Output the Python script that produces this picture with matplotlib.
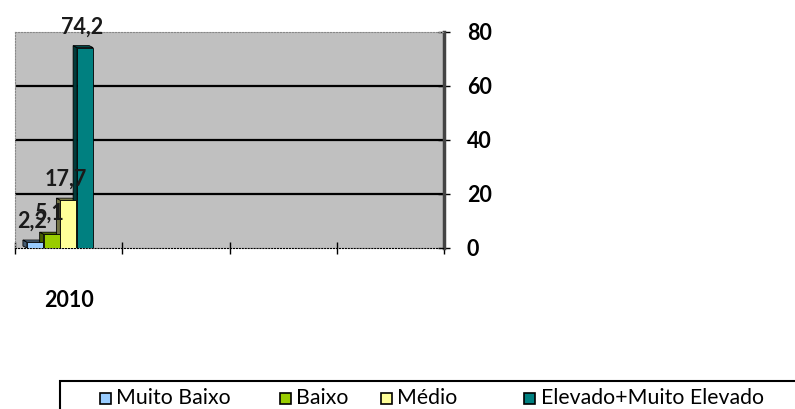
import numpy as np
import matplotlib as mpl
mpl.use('Agg')
import matplotlib.pyplot as plt
from matplotlib.patches import Rectangle, Polygon
from matplotlib.colors import to_rgb

plt.rcParams['font.family'] = ['Lato', 'DejaVu Sans']

categories = ['2010', '', '', '']
series_names = ['Muito Baixo', 'Baixo', 'Médio', 'Elevado+Muito Elevado']
values_2010 = [2.2, 5.1, 17.7, 74.2]
value_labels = ['2,2', '5,1', '17,7', '74,2']
y_ticks = [0, 20, 40, 60, 80]

colors = ['#99CCFF', '#99CC00', '#FFFF99', '#008080']


def darker(c, f=0.45):
  r, g, b = to_rgb(c)
  return (r * f, g * f, b * f)


fig = plt.figure(figsize=(7.95, 4.09), dpi=100)
ax = fig.add_axes([15 / 795, 1 - 248 / 409, 429 / 795, 216 / 409])
ax.set_facecolor('#C0C0C0')

width = 0.15
step = 0.156
depth_x = 0.037
depth_y = 0.75

for i, (name, val) in enumerate(zip(series_names, values_2010)):
  cx = (i - 1.5) * step - 0.08
  x0 = cx - width / 2
  x1 = cx + width / 2
  dark = darker(colors[i])
  # side and top faces for the 3D look
  side = Polygon([(x0, 0), (x0, val), (x0 - depth_x, val + depth_y), (x0 - depth_x, depth_y)],
                 closed=True, facecolor=dark, edgecolor='black', lw=0.6, zorder=3)
  top = Polygon([(x0, val), (x1, val), (x1 - depth_x, val + depth_y), (x0 - depth_x, val + depth_y)],
                closed=True, facecolor=darker(colors[i], 0.6), edgecolor='black', lw=0.6, zorder=3)
  ax.add_patch(side)
  ax.add_patch(top)
  ax.bar(cx, val, width=width, color=colors[i], edgecolor='black', lw=0.6, zorder=4)
  ax.annotate(value_labels[i], (cx, val), xytext=(-2, 15), textcoords='offset points',
              ha='center', va='center', fontsize=15.5, fontweight='bold',
              color='#1a1a1a', zorder=6, annotation_clip=False)

ax.set_xlim(-0.5, len(categories) - 0.5)
ax.set_ylim(0, 80)

# gridlines
ax.set_yticks(y_ticks)
for t in y_ticks[1:-1]:
  ax.axhline(t, color='black', lw=1.6, zorder=1)

ax.yaxis.tick_right()
ax.tick_params(axis='y', which='major', direction='inout', length=9, width=1,
               pad=12, labelsize=15.5, colors='black')
ax.set_yticklabels([str(t) for t in y_ticks], fontweight='bold')

# category boundaries as major ticks, labels on minor ticks
ax.set_xticks(np.arange(-0.5, len(categories), 1.0))
ax.set_xticklabels([])
ax.tick_params(axis='x', which='major', direction='inout', length=9, width=1)
ax.set_xticks(np.arange(len(categories)), minor=True)
ax.set_xticklabels(categories, minor=True, fontweight='bold')
ax.tick_params(axis='x', which='minor', length=0, pad=30, labelsize=15.5)

ax.spines['top'].set_color('#888888')
ax.spines['top'].set_linestyle(':')
ax.spines['left'].set_color('#888888')
ax.spines['left'].set_linestyle(':')
ax.spines['bottom'].set_color('black')
ax.spines['bottom'].set_linestyle(':')
ax.spines['right'].set_color('#444444')
ax.spines['right'].set_linewidth(2.5)

# legend area: box running off the right and bottom edges
fig.patches.append(Rectangle((60 / 795, -0.05), 1.0, 0.05 + (409 - 381) / 409,
                             transform=fig.transFigure, facecolor='white',
                             edgecolor='black', lw=1.5))
square_x = [100, 280, 381, 524]
text_x = [116, 296, 397, 541]
ly = 1 - 398 / 409
for i, name in enumerate(series_names):
  fig.patches.append(Rectangle((square_x[i] / 795, ly - 5.5 / 409), 11 / 795, 11 / 409,
                               transform=fig.transFigure, facecolor=colors[i],
                               edgecolor='black', lw=1.2))
  fig.text(text_x[i] / 795, ly, name, ha='left', va='center', fontsize=15.3)

plt.savefig('out.png', dpi=100)
